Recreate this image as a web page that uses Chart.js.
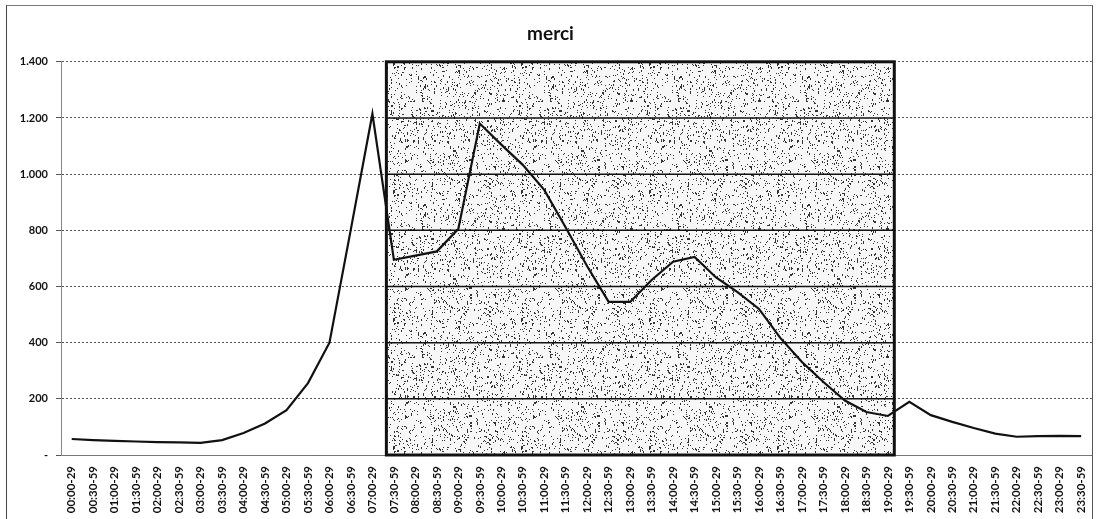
<!DOCTYPE html>
<html>
<head>
<meta charset="utf-8">
<script src="https://cdn.jsdelivr.net/npm/chart.js@4/dist/chart.umd.min.js"></script>
<style>
  html, body { margin: 0; padding: 0; background: #fff; }
  #frame { position: absolute; left: 6px; top: 5px; width: 1085px; height: 520px; border-left: 1px solid #444; border-top: 1px solid #777; border-right: 1px solid #555; }
  #c { position: absolute; left: 0; top: 0; }
</style>
</head>
<body>
<div id="frame"></div>
<canvas id="c" width="1098" height="519"></canvas>
<script>
// fasce orarie (mezz'ora)
var fasce = [
  '00:00-29','00:30-59','01:00-29','01:30-59','02:00-29','02:30-59',
  '03:00-29','03:30-59','04:00-29','04:30-59','05:00-29','05:30-59',
  '06:00-29','06:30-59','07:00-29','07:30-59','08:00-29','08:30-59',
  '09:00-29','09:30-59','10:00-29','10:30-59','11:00-29','11:30-59',
  '12:00-29','12:30-59','13:00-29','13:30-59','14:00-29','14:30-59',
  '15:00-29','15:30-59','16:00-29','16:30-59','17:00-29','17:30-59',
  '18:00-29','18:30-59','19:00-29','19:30-59','20:00-29','20:30-59',
  '21:00-29','21:30-59','22:00-29','22:30-59','23:00-29','23:30-59'
];

// valori
var merci = [
  57, 53, 50, 48, 46, 45,
  43, 53, 78, 112, 160, 256,
  400, 805, 1215, 695, 710, 725,
  805, 1180, 1105, 1033, 944, 810,
  672, 545, 545, 623, 688, 705,
  632, 580, 520, 416, 331, 260,
  194, 153, 139, 189, 142, 118,
  96, 76, 65, 67, 68, 67
];

// tacche asse y
var yTicks = [0, 200, 400, 600, 800, 1000, 1200, 1400];

// fascia evidenziata (indici categoria, frazionari)
var fasciaInizio = 14.65;
var fasciaFine = 38.3;

function formatY(v) {
  if (v === 0) return '-';
  var s = String(v);
  if (s.length > 3) s = s.slice(0, s.length - 3) + '.' + s.slice(s.length - 3);
  return s;
}

// trama puntinata per la fascia (solo texture)
function makePattern() {
  var p = document.createElement('canvas');
  p.width = 128; p.height = 128;
  var g = p.getContext('2d');
  g.fillStyle = '#f7f7f7';
  g.fillRect(0, 0, 128, 128);
  var seed = 987;
  function rnd() { seed = (seed * 1103515245 + 12345) % 2147483648; return seed / 2147483648; }
  g.fillStyle = '#333';
  for (var k = 0; k < 1300; k++) {
    var x = Math.floor(rnd() * 128), y = Math.floor(rnd() * 128);
    g.fillRect(x, y, 1, rnd() < 0.25 ? 2 : 1);
  }
  return p;
}

var fasciaPlugin = {
  id: 'fascia',
  beforeDatasetsDraw: function (chart) {
    var ctx = chart.ctx;
    var xs = chart.scales.x, ys = chart.scales.y;
    var x1 = xs.getPixelForValue(fasciaInizio);
    var x2 = xs.getPixelForValue(fasciaFine);
    var yTop = ys.getPixelForValue(1400);
    var yBot = ys.getPixelForValue(0);
    ctx.save();
    ctx.fillStyle = ctx.createPattern(makePattern(), 'repeat');
    ctx.fillRect(x1, yTop, x2 - x1, yBot - yTop);
    // linee di griglia piene dentro la fascia
    ctx.strokeStyle = '#111';
    ctx.lineWidth = 1.5;
    for (var i = 1; i < yTicks.length - 1; i++) {
      var y = ys.getPixelForValue(yTicks[i]);
      ctx.beginPath();
      ctx.moveTo(x1, y);
      ctx.lineTo(x2, y);
      ctx.stroke();
    }
    ctx.lineWidth = 3;
    ctx.strokeRect(x1, yTop, x2 - x1, yBot - yTop);
    ctx.restore();
  }
};

new Chart(document.getElementById('c'), {
  type: 'line',
  data: {
    labels: fasce,
    datasets: [{
      label: 'merci',
      data: merci,
      borderColor: '#111',
      borderWidth: 2.2,
      pointRadius: 0,
      tension: 0,
      fill: false
    }]
  },
  options: {
    responsive: false,
    animation: false,
    layout: { padding: { left: 8, right: 5, top: 0, bottom: 0 } },
    plugins: {
      legend: { display: false },
      tooltip: { enabled: false },
      title: {
        display: true,
        text: 'merci',
        color: '#111',
        font: { family: 'Lato', size: 19, weight: 'bold' },
        padding: { top: 22, bottom: 17 }
      }
    },
    scales: {
      x: {
        offset: true,
        grid: { display: false, drawOnChartArea: false },
        border: { color: '#777', dash: [3, 2], width: 1 },
        ticks: {
          autoSkip: false,
          maxRotation: 90,
          minRotation: 90,
          color: '#111',
          padding: 3,
          font: { family: 'Lato', size: 11.5, weight: 'bold' }
        },
        afterFit: function (s) { s.height = 64; }
      },
      y: {
        min: 0,
        max: 1400,
        afterBuildTicks: function (s) { s.ticks = yTicks.map(function (v) { return { value: v }; }); },
        grid: { color: '#555', lineWidth: 1, tickLength: 5 },
        border: { color: '#888', dash: [2, 2] },
        ticks: {
          color: '#111',
          padding: 8,
          font: { family: 'Lato', size: 11, weight: 'bold' },
          callback: function (v) { return formatY(v); }
        },
        afterFit: function (s) { s.width = 53; }
      }
    }
  },
  plugins: [fasciaPlugin]
});
</script>
</body>
</html>
